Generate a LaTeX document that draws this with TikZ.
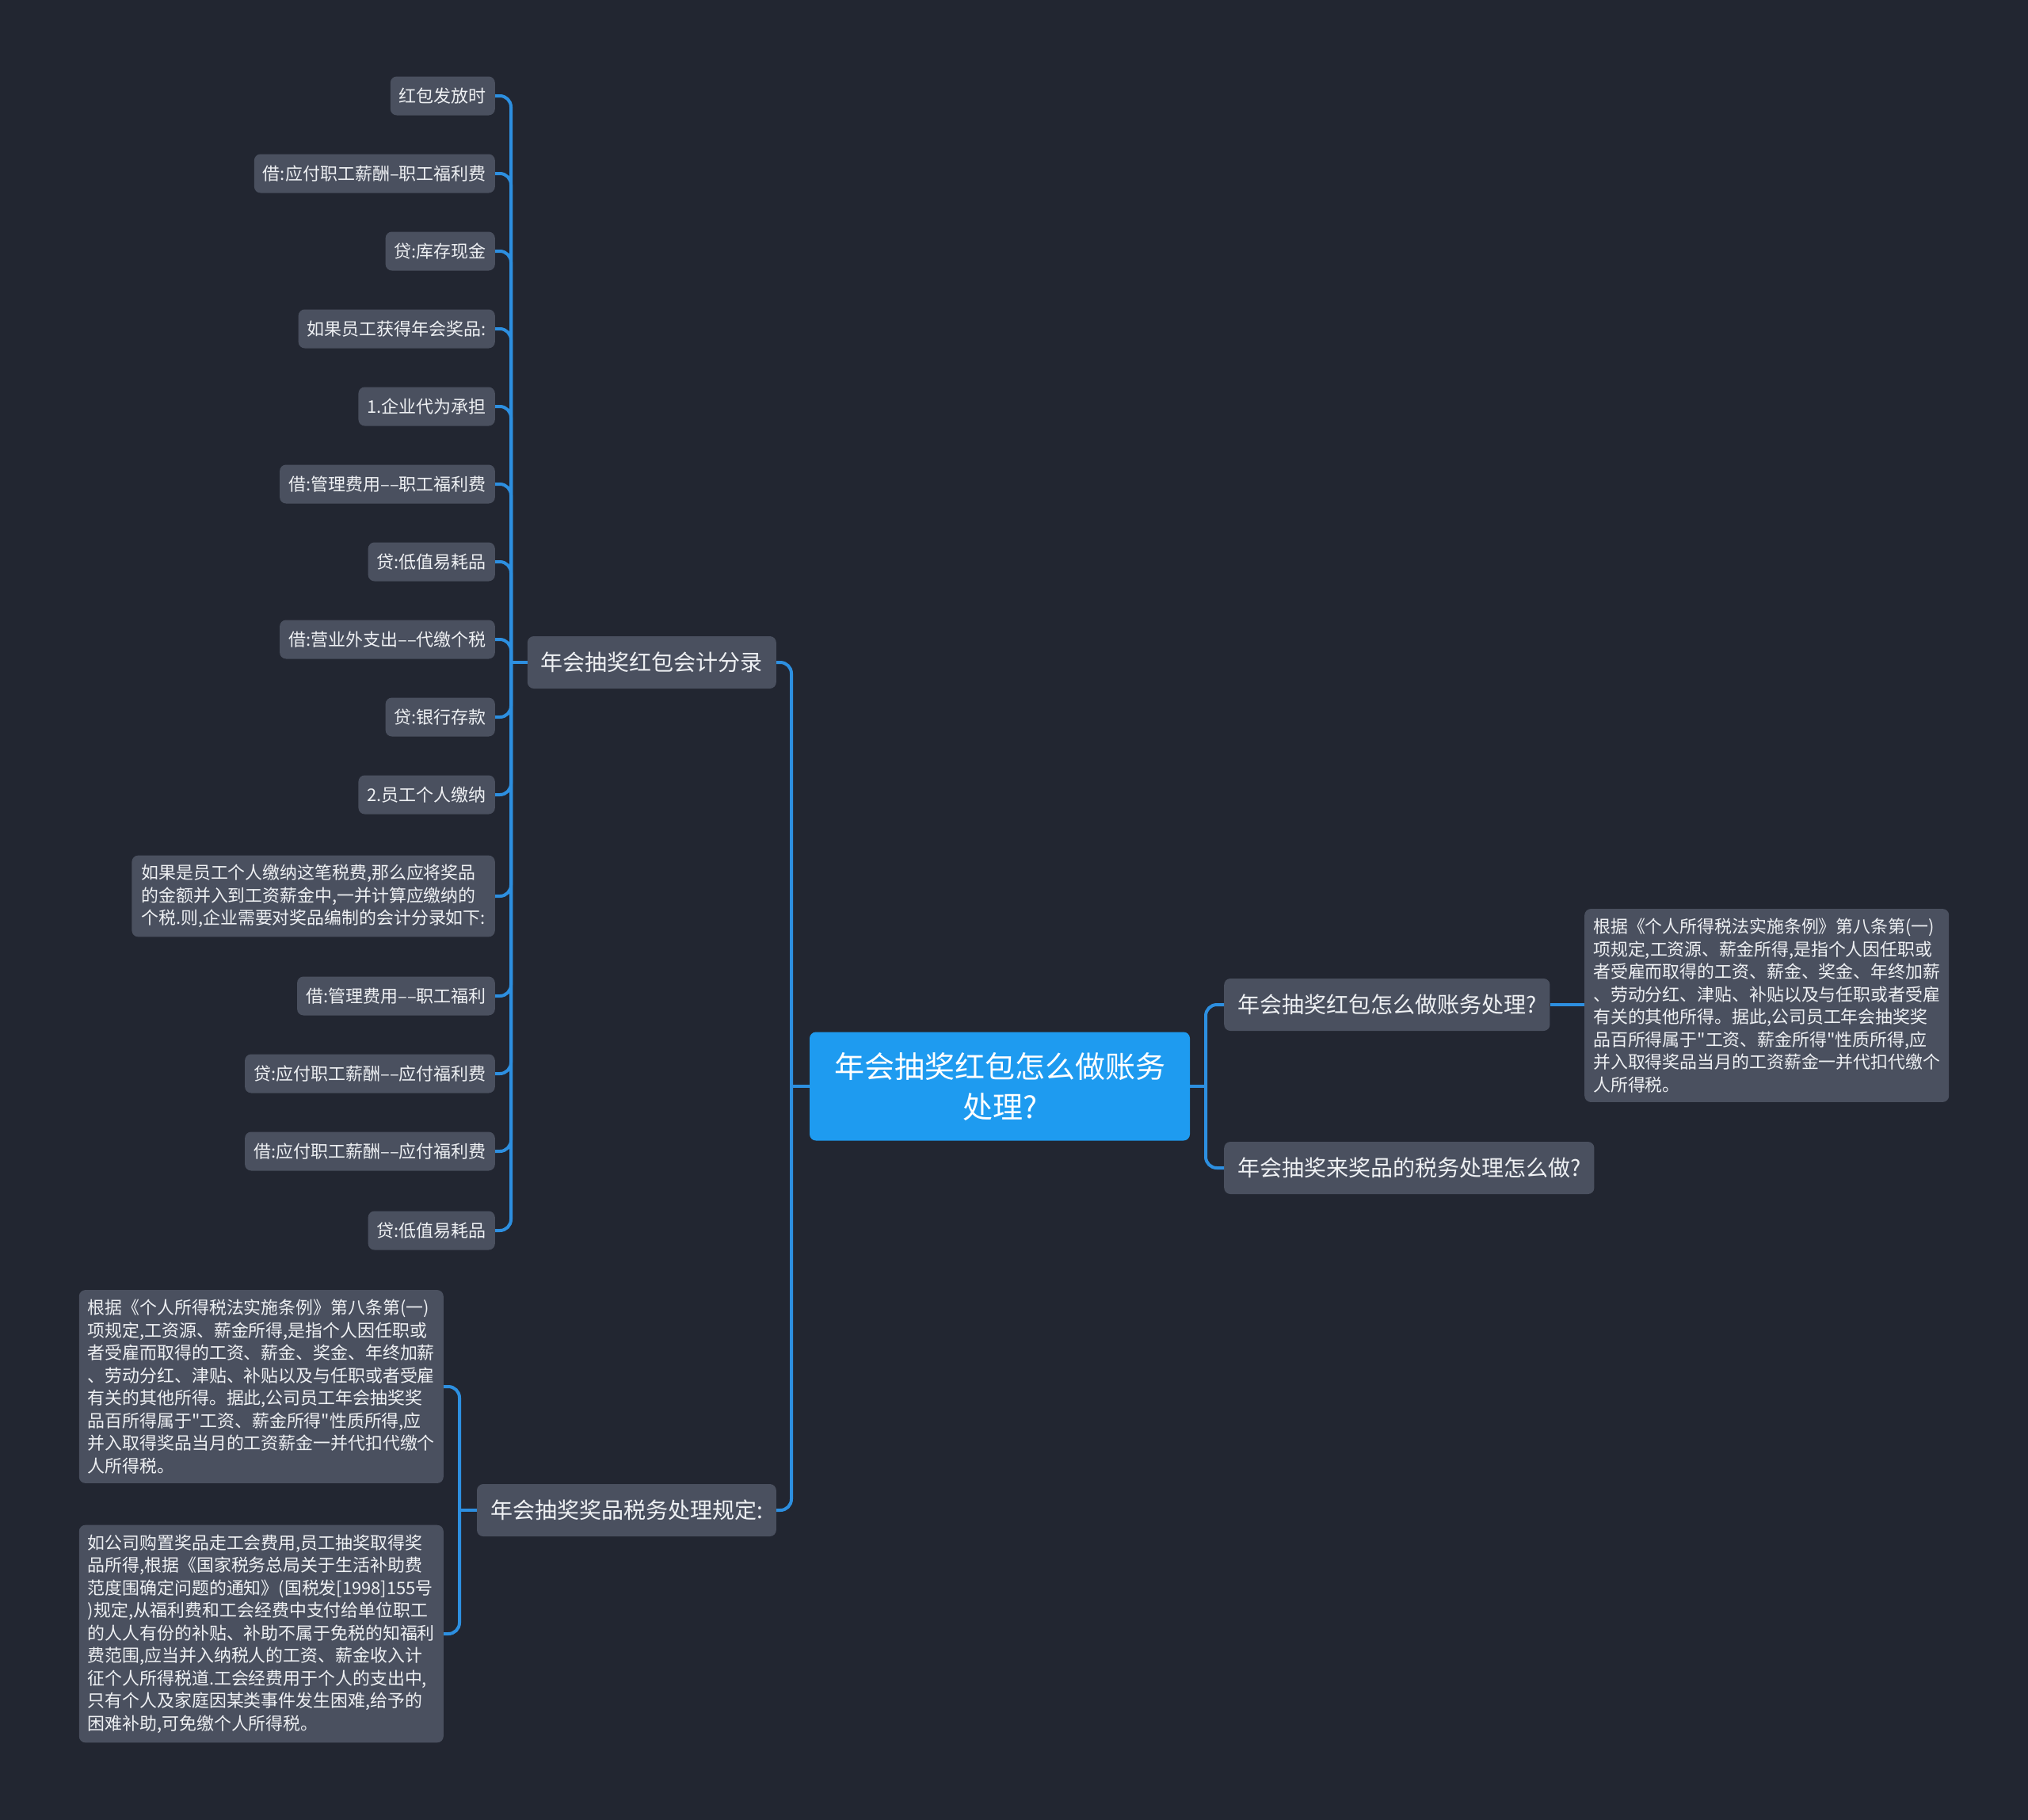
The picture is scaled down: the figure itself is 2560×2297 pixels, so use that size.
\documentclass[tikz,border=0pt]{standalone}
\usepackage{fontspec}
\setmainfont{Noto Sans CJK SC}
\newfontfamily\cjkplain{Noto Sans CJK SC}
\definecolor{bgc}{HTML}{222631}
\definecolor{nodec}{HTML}{4A505F}
\definecolor{rootc}{HTML}{1E9BF0}
\definecolor{linec}{HTML}{2D8FE0}
\definecolor{txtc}{HTML}{EEF0F3}
\tikzset{
  box/.style={fill=nodec, rounded corners=8pt, text=txtc, inner ysep=0pt},
  leaf/.style={box, font=\cjkplain\fontsize{22}{28.5}\selectfont, inner xsep=11pt, minimum height=49pt, anchor=east},
  para/.style={box, font=\cjkplain\fontsize{21.9}{28.5}\selectfont, align=left, inner xsep=11pt, inner ysep=12pt},
  branch/.style={box, font=\cjkplain\fontsize{28}{34}\selectfont, inner xsep=17pt, minimum height=66pt},
  rootbox/.style={fill=rootc, rounded corners=8pt, text=white, font=\cjkplain\fontsize{38}{51}\selectfont, align=center, minimum width=480pt, minimum height=137pt},
  conn/.style={draw=linec, line width=4pt},
  curve/.style={conn, rounded corners=14pt}
}
\begin{document}
\begin{tikzpicture}[x=1pt,y=-1pt]
\fill[bgc] (0,0) rectangle (2560,2297);
\useasboundingbox (0,0) rectangle (2560,2297);

% root
\node[rootbox] (root) at (1262,1371) {年会抽奖红包怎么做账务\\处理?};

% branches
\node[branch, anchor=east] (L1) at (980,836) {年会抽奖红包会计分录};
\node[branch, anchor=east] (L2) at (980,1906) {年会抽奖奖品税务处理规定:};
\node[branch, anchor=west] (R1) at (1545,1268) {年会抽奖红包怎么做账务处理?};
\node[branch, anchor=west] (R2) at (1545,1474) {年会抽奖来奖品的税务处理怎么做?};

% right leaf
\node[para, anchor=west] (rp) at (2000,1269) {根据《个人所得税法实施条例》第八条第(一)\\项规定,工资源、薪金所得,是指个人因任职或\\者受雇而取得的工资、薪金、奖金、年终加薪\\、劳动分红、津贴、补贴以及与任职或者受雇\\有关的其他所得。据此,公司员工年会抽奖奖\\品百所得属于"工资、薪金所得"性质所得,应\\并入取得奖品当月的工资薪金一并代扣代缴个\\人所得税。};

% L2 leaves
\node[para, anchor=east] (pa) at (560,1750) {根据《个人所得税法实施条例》第八条第(一)\\项规定,工资源、薪金所得,是指个人因任职或\\者受雇而取得的工资、薪金、奖金、年终加薪\\、劳动分红、津贴、补贴以及与任职或者受雇\\有关的其他所得。据此,公司员工年会抽奖奖\\品百所得属于"工资、薪金所得"性质所得,应\\并入取得奖品当月的工资薪金一并代扣代缴个\\人所得税。};
\node[para, anchor=east] (pb) at (560,2062) {如公司购置奖品走工会费用,员工抽奖取得奖\\品所得,根据《国家税务总局关于生活补助费\\范度围确定问题的通知》(国税发[1998]155号\\)规定,从福利费和工会经费中支付给单位职工\\的人人有份的补贴、补助不属于免税的知福利\\费范围,应当并入纳税人的工资、薪金收入计\\征个人所得税道.工会经费用于个人的支出中,\\只有个人及家庭因某类事件发生困难,给予的\\困难补助,可免缴个人所得税。};

% L1 leaves
\node[leaf] (a1) at (625,121) {红包发放时};
\node[leaf] (a2) at (625,219) {借:应付职工薪酬–职工福利费};
\node[leaf] (a3) at (625,317) {贷:库存现金};
\node[leaf] (a4) at (625,415) {如果员工获得年会奖品:};
\node[leaf] (a5) at (625,513) {1.企业代为承担};
\node[leaf] (a6) at (625,611) {借:管理费用––职工福利费};
\node[leaf] (a7) at (625,709) {贷:低值易耗品};
\node[leaf] (a8) at (625,807) {借:营业外支出––代缴个税};
\node[leaf] (a9) at (625,905) {贷:银行存款};
\node[leaf] (a10) at (625,1003) {2.员工个人缴纳};
\node[para, anchor=east, inner ysep=11.5pt, inner xsep=12pt] (a11) at (625,1131) {如果是员工个人缴纳这笔税费,那么应将奖品\\的金额并入到工资薪金中,一并计算应缴纳的\\个税.则,企业需要对奖品编制的会计分录如下:};
\node[leaf] (a12) at (625,1257) {借:管理费用––职工福利};
\node[leaf] (a13) at (625,1355) {贷:应付职工薪酬––应付福利费};
\node[leaf] (a14) at (625,1453) {借:应付职工薪酬––应付福利费};
\node[leaf] (a15) at (625,1553) {贷:低值易耗品};

% junction points
\coordinate (rjL) at (999,1371);
\coordinate (rjR) at (1522,1371);
\coordinate (l1j) at (645,836);
\coordinate (l2j) at (580,1906);

% connectors
\draw[conn] (root.west) -- (rjL);
\draw[conn] (root.east) -- (rjR);
\draw[curve] (rjL) |- (L1.east);
\draw[curve] (rjL) |- (L2.east);
\draw[curve] (rjR) |- (R1.west);
\draw[curve] (rjR) |- (R2.west);
\draw[conn] (R1.east) -- (rp.west |- R1.east);

\draw[conn] (L1.west) -- (l1j);
\foreach \n in {a1,a2,a3,a4,a5,a6,a7,a8,a9,a10,a11,a12,a13,a14,a15}
  \draw[curve] (l1j) |- (\n.east);

\draw[conn] (L2.west) -- (l2j);
\draw[curve] (l2j) |- (pa.east);
\draw[curve] (l2j) |- (pb.east);
\end{tikzpicture}
\end{document}
